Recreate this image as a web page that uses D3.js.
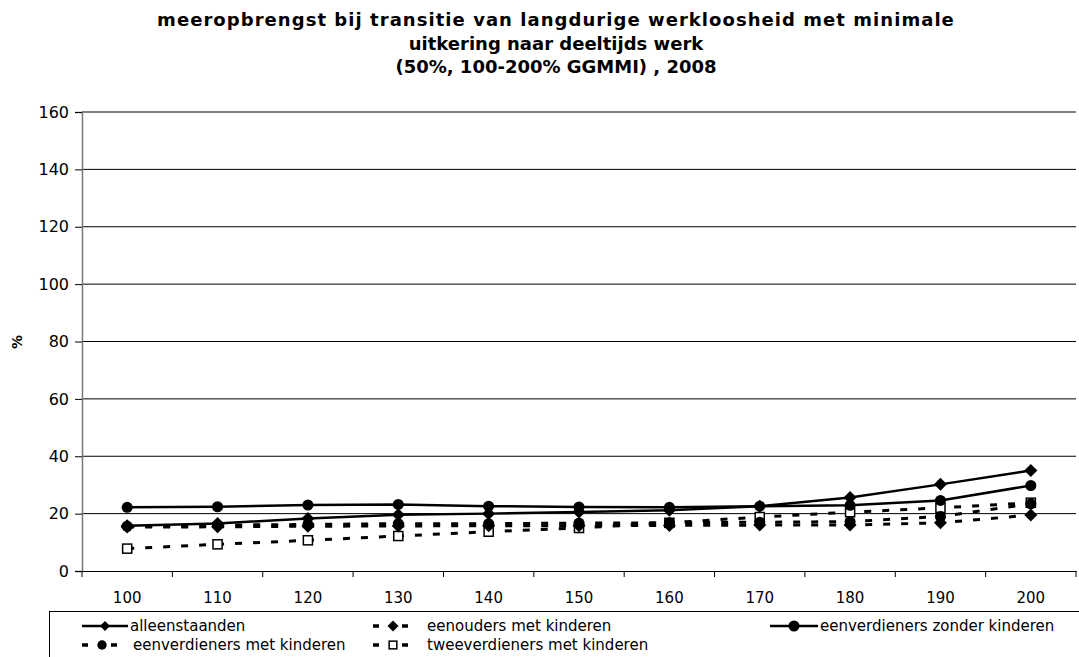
<!DOCTYPE html>
<html>
<head>
<meta charset="utf-8">
<script src="https://cdn.jsdelivr.net/npm/d3@7"></script>
<style>
  body { margin: 0; background: #fff; }
  svg { display: block; font-family: "DejaVu Sans", Verdana, sans-serif; }
</style>
</head>
<body>
<div id="chart"></div>
<script>
// categories (% GGMMI)
const categories = ["100", "110", "120", "130", "140", "150", "160", "170", "180", "190", "200"];
const yTicks = [0, 20, 40, 60, 80, 100, 120, 140, 160];

// series values
const alleenstaanden = [15.8, 16.6, 18.3, 19.6, 20.0, 20.6, 21.2, 22.6, 25.6, 30.2, 35.0];
const eenouders = [15.3, 15.4, 15.6, 15.7, 15.8, 15.8, 15.9, 16.0, 16.0, 16.8, 19.5];
const eenverdienersZonder = [22.2, 22.4, 23.0, 23.2, 22.6, 22.3, 22.2, 22.6, 22.9, 24.6, 29.8];
const eenverdienersMet = [15.6, 16.0, 16.2, 16.5, 16.5, 16.7, 16.8, 17.0, 17.2, 19.0, 23.4];
const tweeverdieners = [7.8, 9.3, 10.7, 12.2, 13.7, 15.0, 16.8, 18.8, 20.5, 22.0, 23.8];

const titleLines = [
  "meeropbrengst bij transitie van langdurige werkloosheid met minimale",
  "uitkering naar deeltijds werk",
  "(50%, 100-200% GGMMI) , 2008"
];

const series = [
  { name: "alleenstaanden", values: alleenstaanden, dashed: false, marker: "diamond" },
  { name: "eenouders met kinderen", values: eenouders, dashed: true, marker: "diamond" },
  { name: "eenverdieners zonder kinderen", values: eenverdienersZonder, dashed: false, marker: "circle" },
  { name: "eenverdieners met kinderen", values: eenverdienersMet, dashed: true, marker: "circle" },
  { name: "tweeverdieners met kinderen", values: tweeverdieners, dashed: true, marker: "square" }
];

const width = 1079, height = 657;
const plotLeft = 82, plotRight = 1076, plotTop = 112, plotBottom = 571;

const svg = d3.select("#chart").append("svg")
  .attr("width", width)
  .attr("height", height);

// title
svg.append("g").selectAll("text")
  .data(titleLines)
  .enter().append("text")
  .attr("x", 556)
  .attr("y", (d, i) => 26 + i * 23.5)
  .attr("text-anchor", "middle")
  .style("font-weight", "bold")
  .style("font-size", "18px")
  .style("letter-spacing", (d, i) => i === 0 ? "1.05px" : "0px")
  .text(d => d);

const x = d3.scaleBand().domain(categories).range([plotLeft, plotRight]).padding(0);
const cx = c => x(c) + x.bandwidth() / 2;
const y = d3.scaleLinear().domain([0, 160]).range([plotBottom, plotTop]);

// gridlines
svg.append("g").selectAll("line")
  .data(yTicks.filter(t => t > 0))
  .enter().append("line")
  .attr("x1", plotLeft).attr("x2", plotRight)
  .attr("y1", d => y(d)).attr("y2", d => y(d))
  .attr("stroke", "#000").attr("stroke-width", 1);

// y axis
const yAxis = svg.append("g")
  .attr("transform", `translate(${plotLeft},0)`)
  .call(d3.axisLeft(y).tickValues(yTicks).tickSize(7).tickPadding(6));
yAxis.select(".domain").attr("stroke", "#777").attr("stroke-width", 1.5);
yAxis.selectAll(".tick line").attr("stroke", "#000");
yAxis.selectAll("text").style("font-size", "16px").style("font-family", "DejaVu Sans, sans-serif").attr("fill", "#000");

svg.append("text")
  .attr("transform", "translate(22,342) rotate(-90)")
  .attr("text-anchor", "middle")
  .style("font-weight", "bold")
  .style("font-size", "14px")
  .text("%");

// x axis: labels at centers, ticks at category boundaries
const xAxis = svg.append("g")
  .attr("transform", `translate(0,${plotBottom})`)
  .call(d3.axisBottom(x).tickSize(0).tickPadding(21));
xAxis.select(".domain").attr("stroke", "#000").attr("stroke-width", 1);
xAxis.selectAll("text").style("font-size", "15px").style("font-family", "DejaVu Sans, sans-serif").attr("fill", "#000");
svg.append("g").selectAll("line")
  .data(categories.map(c => x(c)).concat([plotRight]))
  .enter().append("line")
  .attr("x1", d => d).attr("x2", d => d)
  .attr("y1", plotBottom).attr("y2", plotBottom + 6)
  .attr("stroke", "#000");

function drawMarker(g, type, px, py, s) {
  if (type === "diamond") {
    g.append("path")
      .attr("d", `M${px},${py - s}L${px + s},${py}L${px},${py + s}L${px - s},${py}Z`)
      .attr("fill", "#000");
  } else if (type === "circle") {
    g.append("circle").attr("cx", px).attr("cy", py).attr("r", s * 0.85).attr("fill", "#000");
  } else {
    g.append("rect")
      .attr("x", px - s * 0.7).attr("y", py - s * 0.7)
      .attr("width", s * 1.4).attr("height", s * 1.4)
      .attr("fill", "#fff").attr("stroke", "#000").attr("stroke-width", 1.5);
  }
}

const line = d3.line().x((d, i) => cx(categories[i])).y(d => y(d));

// draw dashed series first, solid on top
const order = [4, 3, 1, 0, 2];
order.forEach(k => {
  const s = series[k];
  const g = svg.append("g");
  g.append("path")
    .attr("d", line(s.values))
    .attr("fill", "none")
    .attr("stroke", "#000")
    .attr("stroke-width", s.dashed ? 3 : 2.5)
    .attr("stroke-dasharray", s.dashed ? "7,11" : null);
  s.values.forEach((v, i) => drawMarker(g, s.marker, cx(categories[i]), y(v), 6.5));
});

// legend
const legend = svg.append("g");
legend.append("rect")
  .attr("x", 49.5).attr("y", 611.5)
  .attr("width", 1040).attr("height", 60)
  .attr("fill", "#fff").attr("stroke", "#000");

const legendPos = [
  { x: 82, y: 626, tx: 130 },
  { x: 373, y: 626, tx: 427 },
  { x: 770, y: 626, tx: 820 },
  { x: 82, y: 645, tx: 133 },
  { x: 373, y: 645, tx: 427 }
];

series.forEach((s, k) => {
  const p = legendPos[k];
  const g = legend.append("g");
  if (s.dashed) {
    g.append("line").attr("x1", p.x).attr("x2", p.x + 6).attr("y1", p.y).attr("y2", p.y)
      .attr("stroke", "#000").attr("stroke-width", 3.5);
    g.append("line").attr("x1", p.x + 29).attr("x2", p.x + 35).attr("y1", p.y).attr("y2", p.y)
      .attr("stroke", "#000").attr("stroke-width", 3.5);
    drawMarker(g, s.marker, p.x + 20, p.y, 5.5);
  } else {
    g.append("line").attr("x1", p.x).attr("x2", p.tx - 2).attr("y1", p.y).attr("y2", p.y)
      .attr("stroke", "#000").attr("stroke-width", 2.5);
    drawMarker(g, s.marker, (p.x + p.tx - 2) / 2, p.y, s.marker === "circle" ? 6.5 : 5);
  }
  g.append("text")
    .attr("x", p.tx).attr("y", p.y)
    .attr("dy", "0.35em")
    .style("font-size", "15px")
    .text(s.name);
});
</script>
</body>
</html>
